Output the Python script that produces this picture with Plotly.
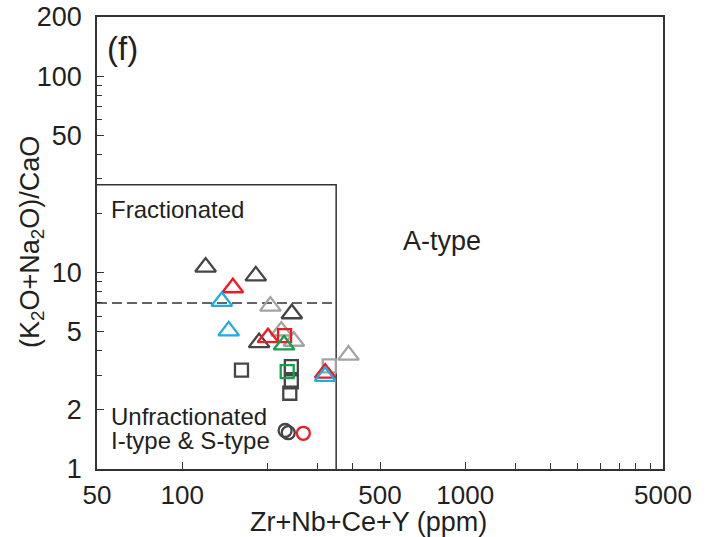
import plotly.graph_objects as go

# Zr+Nb+Ce+Y (ppm) and (K2O+Na2O)/CaO for each sample group
dark_tri_x = [121, 182, 244, 187]
dark_tri_y = [10.67, 9.62, 6.17, 4.40]
light_tri_x = [205, 224, 248, 387]
light_tri_y = [6.75, 5.04, 4.47, 3.80]
red_tri_x = [151, 201, 320]
red_tri_y = [8.37, 4.66, 3.08]
blue_tri_x = [138, 146, 320]
blue_tri_y = [7.14, 5.05, 2.96]
green_tri_x = [229]
green_tri_y = [4.28]
dark_sq_x = [162, 243, 243, 240]
dark_sq_y = [3.19, 3.32, 2.78, 2.43]
light_sq_x = [331]
light_sq_y = [3.35]
red_sq_x = [230]
red_sq_y = [4.77]
green_sq_x = [235]
green_sq_y = [3.13]
dark_circ_x = [231, 237]
dark_circ_y = [1.57, 1.53]
red_circ_x = [268]
red_circ_y = [1.52]

# Field boundaries (Whalen et al. style)
fg_box_x = [50, 350, 350]
fg_box_y = [28, 28, 1]
fg_split_x = [50, 350]
fg_split_y = [7, 7]

# Axis ticks and labels
x_major = [50, 100, 500, 1000, 5000]
x_minor = [200, 300, 400, 1500, 2000, 2500, 3000, 3500, 4000, 4500]
y_major = [1, 2, 5, 10, 50, 100, 200]
y_minor = [3, 4, 6, 7, 8, 9, 20, 30, 40, 60, 70, 80, 90]

DARK = "#454545"
LIGHT = "#a3a3a3"
RED = "#ed1c24"
BLUE = "#1cace6"
GREEN = "#13a04a"
AXIS = "#333333"
INK = "#231f20"
FONT = "Liberation Sans, Arial, sans-serif"

fig = go.Figure()

fig.add_trace(go.Scatter(x=fg_box_x, y=fg_box_y, mode="lines",
                         line=dict(color=AXIS, width=1.5), hoverinfo="skip"))
fig.add_trace(go.Scatter(x=fg_split_x, y=fg_split_y, mode="lines",
                         line=dict(color=AXIS, width=1.5, dash="10px,5px"),
                         hoverinfo="skip"))


def pts(x, y, symbol, color, size):
    fig.add_trace(go.Scatter(
        x=x, y=y, mode="markers",
        marker=dict(symbol=symbol, size=size, color="rgba(0,0,0,0)",
                    line=dict(color=color, width=2.3)),
    ))


pts(light_tri_x, light_tri_y, "triangle-up", LIGHT, 18)
pts(light_sq_x, light_sq_y, "square", LIGHT, 13)
pts(dark_sq_x, dark_sq_y, "square", DARK, 13)
pts(dark_tri_x, dark_tri_y, "triangle-up", DARK, 18)
pts(red_sq_x, red_sq_y, "square", RED, 13)
pts(red_tri_x, red_tri_y, "triangle-up", RED, 18)
pts(green_sq_x, green_sq_y, "square", GREEN, 13)
pts(green_tri_x, green_tri_y, "triangle-up", GREEN, 18)
pts(blue_tri_x, blue_tri_y, "triangle-up", BLUE, 18)
pts(dark_circ_x, dark_circ_y, "circle", DARK, 13)
pts(red_circ_x, red_circ_y, "circle", RED, 13)

axis_common = dict(
    showline=True, linecolor=AXIS, linewidth=1.5, mirror=True,
    ticks="inside", ticklen=7, tickwidth=1.3, tickcolor=AXIS,
    showgrid=False, zeroline=False, automargin=False,
)

fig.update_xaxes(type="log", range=[1.69897, 3.69897], tickmode="array",
                 tickvals=x_major, ticktext=[str(v) for v in x_major],
                 minor=dict(tickmode="array", tickvals=x_minor,
                            ticks="inside", ticklen=6, tickcolor=AXIS,
                            tickwidth=1.3),
                 ticklabelstandoff=2,
                 tickfont=dict(family=FONT, size=26, color=INK),
                 **axis_common)
fig.update_yaxes(type="log", range=[0, 2.30103], tickmode="array",
                 tickvals=y_major, ticktext=[str(v) for v in y_major],
                 minor=dict(tickmode="array", tickvals=y_minor,
                            ticks="inside", ticklen=5, tickcolor=AXIS,
                            tickwidth=1.3),
                 ticklabelstandoff=8,
                 tickfont=dict(family=FONT, size=27, color=INK),
                 **axis_common)

txt = dict(family=FONT, color=INK)
annotations = [
    dict(text="Zr+Nb+Ce+Y (ppm)", x=0.479, y=-0.117, xanchor="center",
         yanchor="middle", font=dict(size=27, **txt)),
    dict(text="(K<sub>2</sub>O+Na<sub>2</sub>O)/CaO", x=-0.115, y=0.502,
         xanchor="center", yanchor="middle", textangle=-90,
         font=dict(size=27, **txt)),
    dict(text="(f)", x=0.014, y=0.931, xanchor="left", yanchor="middle",
         font=dict(size=33, **txt)),
    dict(text="Fractionated", x=0.022, y=0.575, xanchor="left",
         yanchor="middle", font=dict(size=24, **txt)),
    dict(text="A-type", x=0.61, y=0.504, xanchor="center", yanchor="middle",
         font=dict(size=27, **txt)),
    dict(text="Unfractionated", x=0.022, y=0.116, xanchor="left",
         yanchor="middle", font=dict(size=24, **txt)),
    dict(text="I-type & S-type", x=0.022, y=0.062, xanchor="left",
         yanchor="middle", font=dict(size=24, **txt)),
]
for a in annotations:
    a.update(xref="paper", yref="paper", showarrow=False)

fig.update_layout(
    width=715, height=537,
    margin=dict(l=97, r=52, t=17, b=68),
    paper_bgcolor="white", plot_bgcolor="white",
    showlegend=False,
    annotations=annotations,
)

fig.write_html("out.html")
